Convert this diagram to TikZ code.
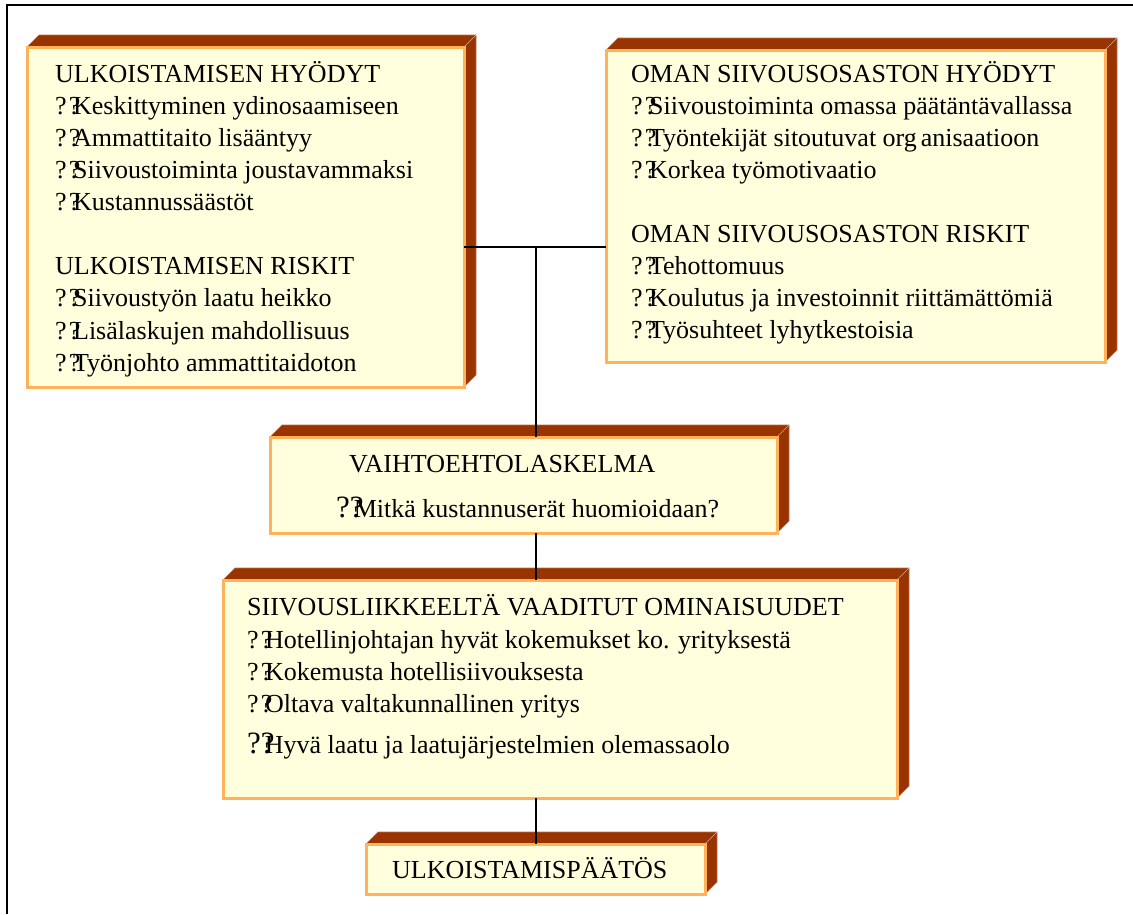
\documentclass[tikz,border=0pt]{standalone}
\usepackage{fontspec}
\setmainfont{Liberation Serif}
\usetikzlibrary{backgrounds,calc}

\definecolor{boxfill}{RGB}{255,255,221}
\definecolor{boxline}{RGB}{255,178,89}
\definecolor{boxside}{RGB}{153,51,0}

\newcommand{\qq}{?\kern0.08em?\kern-0.28em}
\newcommand{\bigqq}{{\fontsize{31}{31}\selectfont ??\kern-0.32em}}

\tikzset{
  box/.style={draw=boxline, fill=boxfill, line width=3pt, rectangle, anchor=north west, inner sep=0pt, outer sep=0pt},
  side/.style={fill=boxside, draw=boxside!70!white, line width=0.6pt},
  txt/.style={anchor=base west, inner sep=0pt, font=\fontsize{26}{30}\selectfont},
  link/.style={line width=1.6pt}
}

\begin{document}
\begin{tikzpicture}[x=1pt,y=-1pt]
    \useasboundingbox (0,0) rectangle (1133,914);
    \draw[line width=2pt] (7,914) -- (7,5) -- (1133,5);

    % front faces
    \node (ulkobox) [box, minimum width=437pt, minimum height=340pt] at (27,47) {};
    \node (omabox) [box, minimum width=499pt, minimum height=312pt] at (606,50) {};
    \node (vaihtobox) [box, minimum width=507pt, minimum height=96pt] at (270,437) {};
    \node (vaatbox) [box, minimum width=674pt, minimum height=218pt] at (223,580) {};
    \node (paatbox) [box, minimum width=339pt, minimum height=50pt] at (366,844) {};

    % depth faces
    \begin{scope}[on background layer]
        \foreach \b in {ulkobox,omabox,vaihtobox,vaatbox,paatbox} {
            \filldraw[side] (\b.north west) -- ++(12,-12) -- ($(\b.north east)+(12,-12)$)
                -- ($(\b.south east)+(12,-12)$) -- (\b.south east) -- (\b.north east) -- cycle;
            \draw[boxside!40!white, line width=0.5pt] (\b.north east) -- ++(12,-12);
        }
    \end{scope}

    % connectors
    \coordinate (hub) at (536,247);
    \draw[link] (ulkobox.east |- hub) -- (omabox.west |- hub);
    \draw[link] (hub) -- (hub |- vaihtobox.north);
    \draw[link] (hub |- vaihtobox.south) -- (hub |- vaatbox.north);
    \draw[link] (hub |- vaatbox.south) -- (hub |- paatbox.north);

    % texts
    \foreach \t/\y [count=\i] in {ULKOISTAMISEN HYÖDYT/82, \qq Keskittyminen ydinosaamiseen/114,
        \qq Ammattitaito lisääntyy/146, \qq Siivoustoiminta joustavammaksi/178,
        \qq Kustannussäästöt/210, ULKOISTAMISEN RISKIT/274, \qq Siivoustyön laatu heikko/306,
        \qq Lisälaskujen mahdollisuus/339, \qq Työnjohto ammattitaidoton/371}
        \node (ulko\i) [txt] at (55,\y) {\t};

    \foreach \t/\y [count=\i] in {OMAN SIIVOUSOSASTON HYÖDYT/82, \qq Siivoustoiminta omassa päätäntävallassa/114,
        \qq Työntekijät sitoutuvat org\hspace{0.15em}anisaatioon/146, \qq Korkea työmotivaatio/178,
        OMAN SIIVOUSOSASTON RISKIT/242, \qq Tehottomuus/274,
        \qq Koulutus ja investoinnit riittämättömiä/306, \qq Työsuhteet lyhytkestoisia/338}
        \node (oma\i) [txt] at (631,\y) {\t};

    \node (vaihto1) [txt] at (349,472) {VAIHTOEHTOLASKELMA};
    \node (vaihto2) [txt] at (336,517) {\bigqq Mitkä kustannuserät huomioidaan?};

    \foreach \t/\y [count=\i] in {SIIVOUSLIIKKEELTÄ VAADITUT OMINAISUUDET/615,
        \qq Hotellinjohtajan hyvät kokemukset ko. yrityksestä/648,
        \qq Kokemusta hotellisiivouksesta/680, \qq Oltava valtakunnallinen yritys/712,
        \bigqq Hyvä laatu ja laatujärjestelmien olemassaolo/753}
        \node (vaat\i) [txt] at (247,\y) {\t};

    \node (paatos) [txt] at (392,878) {ULKOISTAMISPÄÄTÖS};
\end{tikzpicture}
\end{document}
